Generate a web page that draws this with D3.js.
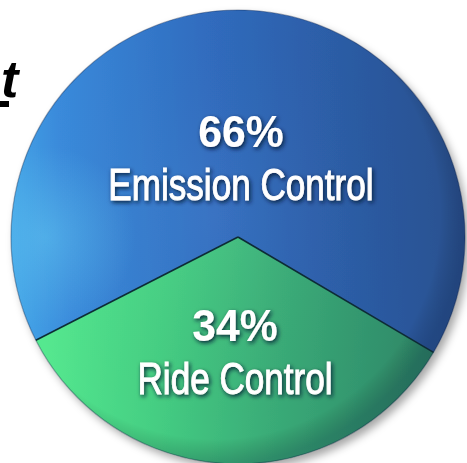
<!DOCTYPE html>
<html>
<head>
<meta charset="utf-8">
<script src="https://cdn.jsdelivr.net/npm/d3@7"></script>
<style>
  body { margin: 0; background: #fff; }
  svg { display: block; }
</style>
</head>
<body>
<script>
const categories = ["Emission Control", "Ride Control"]
const shares = [66, 34]
const shareLabels = ["66%", "34%"]
const titleTail = "t"

function go() {
    const width = 467, height = 463
    const cx = 238, cy = 237, radius = 227
    const startDeg = 242.95

    const svg = d3.select("body").append("svg")
        .attr("width", width)
        .attr("height", height)

    const defs = svg.append("defs")

    // slice fills (coords are local to the pie group)
    const blue = defs.append("linearGradient").attr("id", "blueFill")
        .attr("gradientUnits", "userSpaceOnUse")
        .attr("x1", -radius).attr("y1", 0)
        .attr("x2", radius).attr("y2", -30)
    blue.append("stop").attr("offset", 0).attr("stop-color", "#45a6e8")
    blue.append("stop").attr("offset", 0.12).attr("stop-color", "#3a8bdc")
    blue.append("stop").attr("offset", 0.45).attr("stop-color", "#306dc0")
    blue.append("stop").attr("offset", 0.75).attr("stop-color", "#2c5ca5")
    blue.append("stop").attr("offset", 1).attr("stop-color", "#2a508e")

    const green = defs.append("linearGradient").attr("id", "greenFill")
        .attr("gradientUnits", "userSpaceOnUse")
        .attr("x1", -radius).attr("y1", 0)
        .attr("x2", radius).attr("y2", 50)
    green.append("stop").attr("offset", 0.1).attr("stop-color", "#55e88f")
    green.append("stop").attr("offset", 0.35).attr("stop-color", "#45cf83")
    green.append("stop").attr("offset", 0.6).attr("stop-color", "#3aad78")
    green.append("stop").attr("offset", 0.85).attr("stop-color", "#31906c")
    green.append("stop").attr("offset", 1).attr("stop-color", "#2b7c61")

    const shade = defs.append("radialGradient").attr("id", "shade")
        .attr("cx", 0.45).attr("cy", 0.45).attr("r", 0.55)
    shade.append("stop").attr("offset", 0).attr("stop-color", "#fff").attr("stop-opacity", 0.04)
    shade.append("stop").attr("offset", 0.9).attr("stop-color", "#000").attr("stop-opacity", 0)
    shade.append("stop").attr("offset", 1).attr("stop-color", "#001030").attr("stop-opacity", 0.2)

    const glow = defs.append("radialGradient").attr("id", "glow")
        .attr("gradientUnits", "userSpaceOnUse")
        .attr("cx", -radius * 0.85).attr("cy", 0).attr("r", radius * 0.4)
    glow.append("stop").attr("offset", 0).attr("stop-color", "#62c8f3").attr("stop-opacity", 0.5)
    glow.append("stop").attr("offset", 1).attr("stop-color", "#62c8f3").attr("stop-opacity", 0)

    const drop = defs.append("filter").attr("id", "drop")
        .attr("x", "-10%").attr("y", "-10%").attr("width", "125%").attr("height", "125%")
    drop.append("feDropShadow").attr("dx", 4).attr("dy", 5)
        .attr("stdDeviation", 4).attr("flood-color", "#000").attr("flood-opacity", 0.35)

    const txtShadow = defs.append("filter").attr("id", "txtShadow")
        .attr("x", "-20%").attr("y", "-40%").attr("width", "140%").attr("height", "180%")
    txtShadow.append("feDropShadow").attr("dx", 1.5).attr("dy", 2)
        .attr("stdDeviation", 2.2).attr("flood-color", "#061232").attr("flood-opacity", 0.9)

    // cut-off title
    svg.append("text")
        .attr("x", 1).attr("y", 97)
        .attr("font-family", "Liberation Sans, Arial, sans-serif")
        .attr("font-weight", "bold")
        .attr("font-style", "italic")
        .attr("font-size", 52)
        .attr("fill", "#000")
        .text(titleTail)
    svg.append("rect")
        .attr("x", 0).attr("y", 101).attr("width", 9).attr("height", 6)
        .attr("fill", "#000")

    const pie = d3.pie()
        .sort(null)
        .startAngle(startDeg * Math.PI / 180)
        .endAngle(startDeg * Math.PI / 180 + 2 * Math.PI)
    const arcs = pie(shares)

    const arc = d3.arc().innerRadius(0).outerRadius(radius)
    const labelArc = d3.arc().innerRadius(97).outerRadius(97)
    const fills = ["url(#blueFill)", "url(#greenFill)"]

    const g = svg.append("g")
        .attr("transform", "translate(" + cx + "," + cy + ")")

    const pieG = g.append("g").attr("filter", "url(#drop)")
    pieG.selectAll("path.slice")
        .data(arcs)
        .enter()
        .append("path")
        .attr("class", "slice")
        .attr("d", arc)
        .attr("fill", function(d, i) { return fills[i] })

    g.append("path")
        .attr("d", arc(arcs[0]))
        .attr("fill", "url(#glow)")

    g.append("circle")
        .attr("r", radius)
        .attr("fill", "url(#shade)")
        .attr("stroke", "rgba(10,25,60,0.35)")
        .attr("stroke-width", 1.2)

    // dividing edges
    arcs.forEach(function(d) {
        g.append("line")
            .attr("x1", 0).attr("y1", 0)
            .attr("x2", radius * Math.sin(d.startAngle))
            .attr("y2", -radius * Math.cos(d.startAngle))
            .attr("stroke", "#0d2c35")
            .attr("stroke-width", 1.6)
    })

    const labels = g.selectAll("g.label")
        .data(arcs)
        .enter()
        .append("g")
        .attr("class", "label")
        .attr("transform", function(d) {
            const c = labelArc.centroid(d)
            return "translate(" + c[0] + "," + c[1] + ")"
        })
        .attr("filter", "url(#txtShadow)")
        .attr("fill", "#fff")
        .attr("text-anchor", "middle")
        .attr("font-family", "Liberation Sans, Arial, sans-serif")

    labels.append("text")
        .attr("transform", "translate(0,7) scale(0.95,1)")
        .attr("font-weight", "bold")
        .attr("font-size", 45)
        .text(function(d, i) { return shareLabels[i] })

    labels.append("text")
        .attr("transform", "translate(0,60) scale(0.78,1)")
        .attr("font-size", 45)
        .attr("stroke", "#fff")
        .attr("stroke-width", 0.9)
        .text(function(d, i) { return categories[i] })
}

window.onload = function() {
    go()
}
</script>
</body>
</html>
